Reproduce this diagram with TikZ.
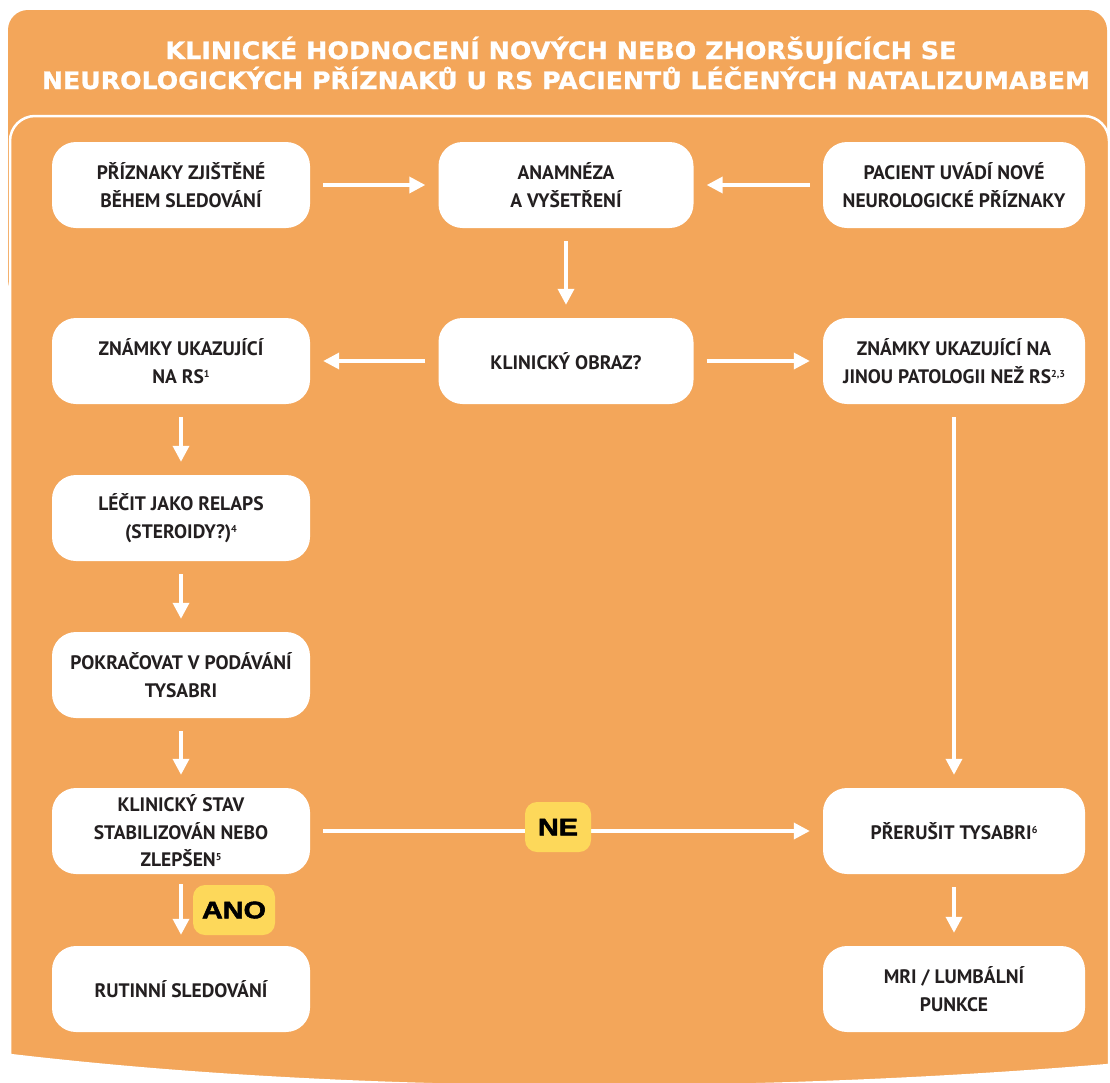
\documentclass[tikz,border=0pt]{standalone}
\usepackage{fontspec}
\usepackage{graphicx}
\setmainfont{PT Sans}
\newfontfamily\titlefont{DejaVu Sans}[BoldFeatures={FakeBold=1}]
\newfontfamily\labelfont{Liberation Sans}[BoldFeatures={FakeBold=2}]
\usetikzlibrary{arrows.meta}
\definecolor{bgorange}{RGB}{243,166,90}
\definecolor{lblyellow}{RGB}{253,216,90}
\definecolor{txtdark}{RGB}{35,31,32}
\newcommand\sups[1]{\raisebox{6pt}{\fontsize{10}{10}\selectfont #1}}
\begin{document}
\begin{tikzpicture}[x=1pt,y=-1pt,
  flowbox/.style={fill=white, rounded corners=24pt, text=txtdark,
    font=\fontsize{19.5}{27.5}\selectfont\bfseries, align=center, inner sep=0pt,
    minimum width=258pt, minimum height=86pt},
  midbox/.style={flowbox, minimum width=255pt},
  rightbox/.style={flowbox, minimum width=262pt},
  arr/.style={draw=white, line width=3.5pt, -{Triangle[length=16pt,width=16pt]},
    shorten <=13pt, shorten >=13pt},
  decision/.style={fill=lblyellow, rounded corners=12pt, text=black,
    font=\labelfont\bfseries\fontsize{24}{24}\selectfont, inner sep=0pt,
    minimum height=50pt},
  titletext/.style={text=white, font=\titlefont\bfseries\fontsize{24}{24}\selectfont,
    anchor=base, inner sep=0pt}
]
\useasboundingbox (0,0) rectangle (1110,1082);
% background panels
\fill[bgorange, rounded corners=20pt] (8,10) rectangle (1107,300);
\path[fill=bgorange, draw=white, line width=2.5pt]
  (10,1055) -- (10,141) .. controls (10,127.2) and (21.2,116) .. (35,116)
  -- (1084,116) .. controls (1097.8,116) and (1109,127.2) .. (1109,141)
  -- (1109,1065) .. controls (750,1095) and (350,1095) .. (10,1055) -- cycle;
% title
\node[titletext] (t1) at (561,59) {\resizebox{791pt}{\height}{KLINICKÉ HODNOCENÍ NOVÝCH NEBO ZHORŠUJÍCÍCH SE}};
\node[titletext] (t2) at (566,89) {\resizebox{1048pt}{\height}{NEUROLOGICKÝCH PŘÍZNAKŮ U RS PACIENTŮ LÉČENÝCH NATALIZUMABEM}};
% boxes
\node[flowbox]  (b1) at (181,185) {PŘÍZNAKY ZJIŠTĚNÉ\\BĚHEM SLEDOVÁNÍ};
\node[midbox]   (b2) at (566,185) {ANAMNÉZA\\A VYŠETŘENÍ};
\node[rightbox] (b3) at (954,185) {PACIENT UVÁDÍ NOVÉ\\NEUROLOGICKÉ PŘÍZNAKY};
\node[flowbox]  (b4) at (181,361) {ZNÁMKY UKAZUJÍCÍ\\NA RS\sups{1}};
\node[midbox]   (b5) at (566,361) {KLINICKÝ OBRAZ?};
\node[rightbox] (b6) at (954,361) {ZNÁMKY UKAZUJÍCÍ NA\\JINOU PATOLOGII NEŽ RS\sups{2,3}};
\node[flowbox]  (b7) at (181,518) {LÉČIT JAKO RELAPS\\(STEROIDY?)\sups{4}};
\node[flowbox]  (b8) at (181,675) {POKRAČOVAT V PODÁVÁNÍ\\TYSABRI};
\node[flowbox]  (b9) at (181,831) {KLINICKÝ STAV\\STABILIZOVÁN NEBO\\ZLEPŠEN\sups{5}};
\node[flowbox]  (b12) at (181,989) {RUTINNÍ SLEDOVÁNÍ};
\node[rightbox] (b10) at (954,831) {PŘERUŠIT TYSABRI\sups{6}};
\node[rightbox] (b11) at (954,989) {MRI / LUMBÁLNÍ\\PUNKCE};
% connectors
\draw[arr] (b1.east) -- (b2.west);
\draw[arr] (b3.west) -- (b2.east);
\draw[arr] (b2.south) -- (b5.north);
\draw[arr] (b5.west) -- (b4.east);
\draw[arr] (b5.east) -- (b6.west);
\draw[arr] (b4.south) -- (b7.north);
\draw[arr] (b7.south) -- (b8.north);
\draw[arr] (b8.south) -- (b9.north);
\draw[arr] (b6.south) -- (b10.north);
\draw[arr] (b9.east) -- (b10.west);
\draw[arr, shorten <=10pt, shorten >=11pt] (b9.south) -- (b12.north);
\draw[arr] (b10.south) -- (b11.north);
% decision labels
\node[decision, minimum width=66pt] (ne) at (558,827) {\scalebox{1.2}[1]{NE}};
\node[decision, minimum width=82pt] (ano) at (234,910) {\scalebox{1.2}[1]{ANO}};
\end{tikzpicture}
\end{document}
